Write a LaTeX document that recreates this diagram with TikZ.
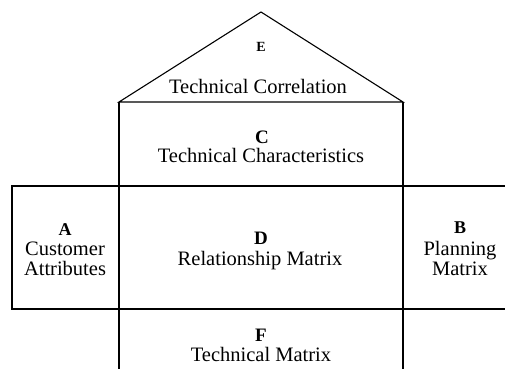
\documentclass[tikz,border=0pt]{standalone}
\usepackage{fontspec}
\setmainfont{Liberation Serif}
\begin{document}
\begin{tikzpicture}[x=1pt,y=-1pt,
  frame/.style={line width=1.1pt,line join=miter},
  lbl/.style={anchor=base,inner sep=0pt,font=\bfseries\fontsize{19}{19}\selectfont},
  txt/.style={anchor=base,inner sep=0pt,font=\fontsize{20.5}{20}\selectfont}]
\useasboundingbox (0,0) rectangle (505,369);
% outline
\coordinate (apex) at (261,12);
\coordinate (rl) at (119,102);
\coordinate (rr) at (403,102);
\draw[frame] (rl) -- (apex) -- (rr) -- cycle;
\draw[frame] (119,102) -- (119,369);
\draw[frame] (403,102) -- (403,369);
\draw[frame] (505,186) -- (12,186) -- (12,309) -- (505,309);
% roof E
\node[lbl,font=\bfseries\fontsize{14}{14}\selectfont] (E) at (261,52) {E};
\node[txt] (Et) at (258,93) {Technical Correlation};
% C
\node[lbl] (C) at (262,143) {C};
\node[txt] (Ct) at (261,162) {Technical Characteristics};
% D
\node[lbl] (D) at (261,244) {D};
\node[txt] (Dt) at (260,265) {Relationship Matrix};
% A
\node[lbl,font=\bfseries\fontsize{18}{18}\selectfont] (A) at (65,235) {A};
\node[txt] (At1) at (65,255) {Customer};
\node[txt] (At2) at (65,275) {Attributes};
% B
\node[lbl,font=\bfseries\fontsize{18}{18}\selectfont] (B) at (460,233) {B};
\node[txt] (Bt1) at (460,255) {Planning};
\node[txt] (Bt2) at (460,275) {Matrix};
% F
\node[lbl] (F) at (261,341) {F};
\node[txt] (Ft) at (261,361) {Technical Matrix};
\end{tikzpicture}
\end{document}
